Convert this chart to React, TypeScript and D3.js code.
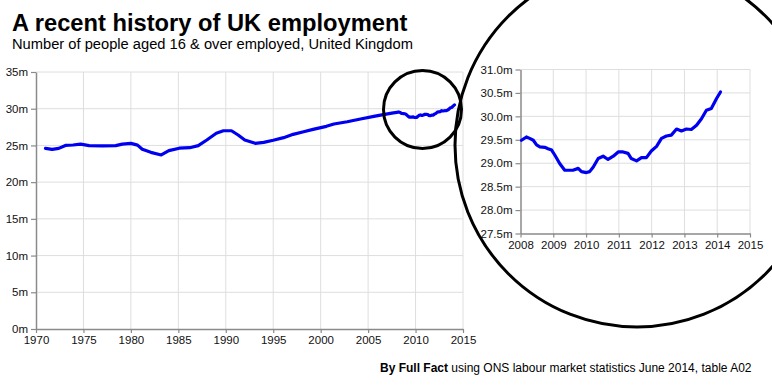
import React, { useEffect, useRef } from 'react';
import * as d3 from 'd3';

// UK employment, people aged 16+ (millions)
const earlyYears = [1971.0, 1971.7, 1972.4, 1973.1, 1973.9, 1974.7, 1975.6, 1977.0, 1978.4, 1979.1, 1980.0, 1980.7, 1981.2, 1982.1, 1983.2, 1984.0, 1985.1, 1986.2, 1987.1, 1988.0, 1989.0, 1989.75, 1990.6, 1991.3, 1992.0, 1993.1, 1994.0, 1995.0, 1996.1, 1997.1, 1998.2, 1999.2, 2000.6, 2001.4, 2002.8, 2004.2, 2005.6, 2006.6, 2007.5];
const earlyValues = [24.6, 24.47, 24.6, 25.0, 25.06, 25.17, 24.97, 24.93, 24.97, 25.17, 25.28, 25.04, 24.47, 24.06, 23.7, 24.29, 24.62, 24.69, 24.97, 25.74, 26.65, 27.0, 27.0, 26.42, 25.74, 25.29, 25.42, 25.7, 26.06, 26.51, 26.87, 27.19, 27.6, 27.92, 28.23, 28.6, 28.95, 29.2, 29.4];

const recentYears = [2008.03, 2008.18, 2008.28, 2008.39, 2008.49, 2008.59, 2008.74, 2008.84, 2008.95, 2009.05, 2009.2, 2009.35, 2009.45, 2009.6, 2009.76, 2009.86, 2010.01, 2010.11, 2010.22, 2010.37, 2010.52, 2010.67, 2010.83, 2010.98, 2011.13, 2011.28, 2011.38, 2011.54, 2011.69, 2011.84, 2011.99, 2012.15, 2012.3, 2012.45, 2012.6, 2012.76, 2012.91, 2013.06, 2013.21, 2013.37, 2013.52, 2013.67, 2013.82, 2013.98, 2014.1];
const recentValues = [29.49, 29.56, 29.53, 29.49, 29.39, 29.35, 29.34, 29.31, 29.28, 29.17, 28.99, 28.85, 28.85, 28.85, 28.89, 28.82, 28.8, 28.82, 28.92, 29.1, 29.15, 29.08, 29.15, 29.24, 29.24, 29.21, 29.1, 29.05, 29.12, 29.12, 29.26, 29.36, 29.53, 29.58, 29.6, 29.73, 29.69, 29.73, 29.72, 29.81, 29.95, 30.13, 30.17, 30.38, 30.52];

const mainYTicks = [0, 5, 10, 15, 20, 25, 30, 35];
const mainXTicks = [1970, 1975, 1980, 1985, 1990, 1995, 2000, 2005, 2010, 2015];
const insetYTicks = [27.5, 28.0, 28.5, 29.0, 29.5, 30.0, 30.5, 31.0];
const insetXTicks = [2008, 2009, 2010, 2011, 2012, 2013, 2014, 2015];

const FONT = '"Liberation Sans", Arial, sans-serif';

function App() {
    const ref = useRef<SVGSVGElement>(null);

    useEffect(() => {
        const svg = d3.select(ref.current);
        svg.selectAll('*').remove();

        const allData = earlyYears.map((y, i) => ({ year: y, value: earlyValues[i] }))
            .concat(recentYears.map((y, i) => ({ year: y, value: recentValues[i] })));
        const recentData = recentYears.map((y, i) => ({ year: y, value: recentValues[i] }));

        const drawPanel = (opts: any) => {
            const { x, y, xTicks, yTicks, yFormat, data } = opts;
            const g = svg.append('g');
            const [x0, x1] = x.range();
            const [y0, y1] = y.range();

            // grid
            g.selectAll('.hgrid').data(yTicks.slice(1)).enter().append('line')
                .attr('x1', x0).attr('x2', x1)
                .attr('y1', (d: number) => y(d)).attr('y2', (d: number) => y(d))
                .attr('stroke', '#dedede').attr('stroke-width', 1);
            g.selectAll('.vgrid').data(xTicks.slice(1)).enter().append('line')
                .attr('x1', (d: number) => x(d)).attr('x2', (d: number) => x(d))
                .attr('y1', y0).attr('y2', y1)
                .attr('stroke', '#dedede').attr('stroke-width', 1);

            const xAxis = g.append('g')
                .attr('transform', `translate(0,${y0})`)
                .call(d3.axisBottom(x).tickValues(xTicks).tickFormat(d3.format('d')).tickSize(4).tickSizeOuter(0).tickPadding(3));
            const yAxis = g.append('g')
                .attr('transform', `translate(${x0},0)`)
                .call(d3.axisLeft(y).tickValues(yTicks).tickFormat(yFormat).tickSize(5).tickSizeOuter(0).tickPadding(3));

            [xAxis, yAxis].forEach(a => {
                a.select('.domain').attr('stroke', '#8a8a8a').attr('stroke-width', 1.5);
                a.selectAll('.tick line').attr('stroke', '#8a8a8a').attr('stroke-width', 1.2);
                a.selectAll('text').attr('fill', '#111').style('font-family', FONT).style('font-size', '11.5px');
            });

            const line = d3.line<any>()
                .x(d => x(d.year))
                .y(d => y(d.value));

            g.append('path')
                .datum(data)
                .attr('d', line)
                .attr('fill', 'none')
                .attr('stroke', '#0000f0')
                .attr('stroke-width', 3.2)
                .attr('stroke-linejoin', 'round')
                .attr('stroke-linecap', 'round');
        };

        drawPanel({
            x: d3.scaleLinear().domain([1970, 2015]).range([36, 463]),
            y: d3.scaleLinear().domain([0, 35]).range([329, 72]),
            xTicks: mainXTicks,
            yTicks: mainYTicks,
            yFormat: (d: number) => `${d}m`,
            data: allData
        });

        drawPanel({
            x: d3.scaleLinear().domain([2008, 2015]).range([520.5, 750]),
            y: d3.scaleLinear().domain([27.5, 31]).range([233.5, 69.5]),
            xTicks: insetXTicks,
            yTicks: insetYTicks,
            yFormat: (d: number) => `${d3.format('.1f')(d)}m`,
            data: recentData
        });

        // zoom circles
        svg.append('circle')
            .attr('cx', 422.5).attr('cy', 109.5).attr('r', 39)
            .attr('fill', 'none').attr('stroke', '#000').attr('stroke-width', 3);
        svg.append('circle')
            .attr('cx', 637).attr('cy', 145).attr('r', 182)
            .attr('fill', 'none').attr('stroke', '#000').attr('stroke-width', 3);

        // titles
        svg.append('text')
            .attr('x', 12).attr('y', 31)
            .style('font-family', FONT).style('font-size', '23.7px').style('font-weight', 'bold')
            .attr('fill', '#000')
            .text('A recent history of UK employment');
        svg.append('text')
            .attr('x', 12).attr('y', 49)
            .style('font-family', FONT).style('font-size', '14.7px')
            .attr('fill', '#000')
            .text('Number of people aged 16 & over employed, United Kingdom');

        const foot = svg.append('text')
            .attr('x', 380).attr('y', 372)
            .style('font-family', FONT).style('font-size', '12px')
            .attr('fill', '#000');
        foot.append('tspan').style('font-weight', 'bold').text('By Full Fact ');
        foot.append('tspan').text('using ONS labour market statistics June 2014, table A02');
    }, []);

    return (
        <svg ref={ref} width={772} height={387}
            style={{ position: 'absolute', left: 0, top: 0, background: '#fff' }} />
    );
}

export default App;
